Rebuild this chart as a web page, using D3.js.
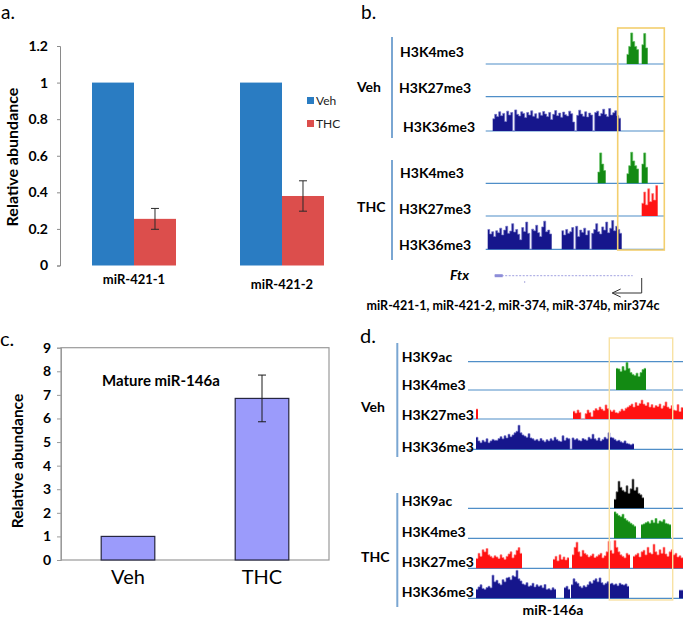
<!DOCTYPE html>
<html><head><meta charset="utf-8">
<script src="https://cdn.jsdelivr.net/npm/d3@7"></script>
<style>body{margin:0;background:#fff}svg{display:block}text{font-family:Lato,"Liberation Sans",sans-serif}</style>
</head><body><svg id="c" width="683" height="617"></svg>
<script>
// ---------- Panel a data ----------
const aCategories = ["miR-421-1", "miR-421-2"];
const aSeries = ["Veh", "THC"];
const aVeh = [1, 1];
const aThc = [0.255, 0.38];
const aThcErr = [0.057, 0.083];
const aTicks = [0, 0.2, 0.4, 0.6, 0.8, 1, 1.2];

// ---------- Panel c data ----------
const cCategories = ["Veh", "THC"];
const cValues = [1, 6.85];
const cErr = [0, 0.99];
const cTicks = [0, 1, 2, 3, 4, 5, 6, 7, 8, 9];

// ---------- Panel b tracks (2-unit bins: [start, values]) ----------
const bVehK4me3 = [[141, [30, 55, 97, 70, 55, 45]], [156, [60, 95, 50]]];
const bVehK27me3 = [];
const bVehK36me3 = [[7, [38,52,45,60,48,55,30,62,50,58, 0,66,52,47,60,55,42,58,50,63, 46,54,40,57,49,61,53,45,58,36, 52,64,48,56,43,59,51,47,62,54, 28,0,49,65,53,46,60,44,56,50, 0,58,62,47,55,68,52,45,70,50, 57,63,48,40]]];
const bThcK4me3 = [[112, [35, 95, 60, 40]], [141, [30, 55, 97, 70, 55, 45]], [156, [60, 95, 50]]];
const bThcK27me3 = [[156, [40, 75, 35, 85, 45, 70, 50, 95]]];
const bThcK36me3 = [[2, [62,48,55,40,58,52,66,45,60,72, 50,57,80,54,62,47,30,68,56,85, 50,0,63,58,75,52,40,70,88,55, 60,48]],
                    [76, [58,45,62,50,55,68,0,72,40,60, 53,66,45,58,0,50,62,80,55,48, 70,60,85,52,66,90,58,72,62,50]]];
const bDomain = [0, 178.3];
const bHighlight = [132, 178.6];
const ftxGene = [9, 147];
const ftxTss = 156;

// ---------- Panel d tracks ----------
const dVehK9ac = [];
const dVehK4me3 = [[148, [72,70,62,78,66,92,72,58,52,48,56,45,58,68,72]]];
const dVehK27me3 = [[8, [33]], [105, [26,20,30,22, 0,0, 18,30,22, 8, 28,35,30,40,33,28,47, 35,30,25,30,22,20, 26,33,28,36,40, 45,50,40,55,45,52, 63, 50,45,55,40,48,38, 45,42,50,36,44, 57, 40,35,45,30,28,48,25,38]]];
const dVehK36me3 = [[8, [40,28,22,30,25,35,22,28,33,30, 30,36,42,35,45,38,50,42,48,55,60, 80, 55,48,44,40,52,38,35,30,33, 28,36,30,25,32,28,35,30,40,33,28,26,45,30,38,35, 0, 38,32,35,30,28,36,33,30,40,35, 50, 35,30,38,28,33,40,35, 55, 40,38,33,28,30,25,22,28,20,18,15,18]]];
const dThcK9ac = [[146, [30,55,90,70,60,55,75,50,65,97,60,70,50,45,35]]];
const dThcK4me3 = [[146, [88,82,76,72,80,66,60,55,50,45,40]], [173, [45,48,52,55,50,60,52,66,50,58,55,62,50,48,45]]];
const dThcK27me3 = [[8, [33,50,40,62,55,66,45,40,35,42, 38,33,45,36,30,40,48,55,35,45, 60,69,50]],
                    [85, [30,40,25,45,30,38,28,35]],
                    [104, [45,70,87,55,40,60,50,45,38,42, 48,36,40,45,50,35,42,55,90,60, 50,93,70,55,45,40,35,50,45]],
                    [165, [40,45,50,38,55,60,45,70,52,48, 80,55,45,62,50,70,48,40,55,62, 45,50,38,42,35]]];
const dThcK36me3 = [[8, [30,38,45,33,30,36,40,35,77,55, 60,50,45,62,55,68,70,62,75,72,93,65,58, 48,45,52,40,42,50,38,45,40,43,35,46,30,32,28,35,30]],
                    [96, [35,40,30]],
                    [103, [45,65,55,50,40,35,42,38,45,55, 50,60,65,55,68,52,45,50,55,48, 50,45,48,42,50,46,44,48,40]],
                    [211, [27,27]]];
const dDomain = [0, 215];
const dHighlight = [141.3, 204.7];
const BIN = 2;

const COL = {navy: "#16168c", navyTip: "#7272c8", green: "#138a13", greenTip: "#5cc05c",
  red: "#ff1212", redTip: "#ff8a8a", black: "#000", blackTip: "#777",
  base: "#4f8ec8", bracket: "#7aa6d2"};

const svg = d3.select("#c");
svg.append("rect").attr("width", 683).attr("height", 617).attr("fill", "#fff");

// ================= Panel a =================
{
  const g = svg.append("g");
  const y = d3.scaleLinear().domain([0, 1.2]).range([265.5, 46]);
  const x0 = d3.scaleBand().domain(aCategories).range([60, 356]);
  const x1 = d3.scaleBand().domain(aSeries).range([0, x0.bandwidth()]).paddingOuter(0.762);
  const ax = d3.axisLeft(y).tickValues(aTicks).tickSize(3).tickPadding(9).tickFormat(d3.format("~g"));
  const axg = g.append("g").attr("transform", "translate(60,0)").call(ax);
  axg.select(".domain").attr("stroke", "#8a8a8a");
  axg.selectAll(".tick line").attr("stroke", "#8a8a8a");
  axg.selectAll("text").attr("font-size", 14).attr("font-weight", "bold").attr("fill", "#000")
     .style("font-family", "Lato, sans-serif");
  const cols = {Veh: "#2a7cc2", THC: "#dc4e4c"};
  aCategories.forEach((c, i) => {
    const vals = {Veh: aVeh[i], THC: aThc[i]};
    aSeries.forEach(s => {
      g.append("rect").attr("x", x0(c) + x1(s)).attr("width", x1.bandwidth())
        .attr("y", y(vals[s])).attr("height", y(0) - y(vals[s])).attr("fill", cols[s]);
    });
    const cx = x0(c) + x1("THC") + x1.bandwidth() / 2;
    const e = aThcErr[i];
    const eg = g.append("g").attr("stroke", "#2a2a2a").attr("stroke-width", 1);
    eg.append("line").attr("x1", cx).attr("x2", cx).attr("y1", y(aThc[i] + e)).attr("y2", y(aThc[i] - e));
    eg.append("line").attr("x1", cx - 4).attr("x2", cx + 4).attr("y1", y(aThc[i] + e)).attr("y2", y(aThc[i] + e));
    eg.append("line").attr("x1", cx - 4).attr("x2", cx + 4).attr("y1", y(aThc[i] - e)).attr("y2", y(aThc[i] - e));
    g.append("text").attr("x", x0(c) + x0.bandwidth() / 2).attr("y", 284 + i * 5)
      .attr("text-anchor", "middle").attr("font-size", 13).attr("font-weight", "bold").text(c);
  });
  g.append("text").attr("transform", "translate(18,157) rotate(-90)").attr("text-anchor", "middle")
    .attr("font-size", 16).attr("font-weight", "bold").text("Relative abundance");
  aSeries.forEach((s, i) => {
    g.append("rect").attr("x", 307).attr("y", 97 + i * 23).attr("width", 7).attr("height", 7).attr("fill", cols[s]);
    g.append("text").attr("x", 316).attr("y", 104.5 + i * 23).attr("font-size", 12).attr("fill", "#222").text(s);
  });
  svg.append("text").attr("x", 1).attr("y", 19).attr("font-size", 19).text("a.");
}

// ================= Panel c =================
{
  const g = svg.append("g");
  const y = d3.scaleLinear().domain([0, 9]).range([560, 347.7]);
  const x = d3.scaleBand().domain(cCategories).range([61, 329]).paddingInner(0.6).paddingOuter(0.3);
  g.append("rect").attr("x", 61).attr("y", 347.7).attr("width", 268).attr("height", 212.3)
    .attr("fill", "none").attr("stroke", "#9a9a9a").attr("stroke-width", 1.2);
  const ax = d3.axisLeft(y).tickValues(cTicks).tickSize(4).tickPadding(6).tickFormat(d3.format("d"));
  const axg = g.append("g").attr("transform", "translate(61,0)").call(ax);
  axg.select(".domain").attr("stroke", "#9a9a9a");
  axg.selectAll(".tick line").attr("stroke", "#9a9a9a");
  axg.selectAll("text").attr("font-size", 14).attr("font-weight", "bold").attr("fill", "#000")
     .style("font-family", "Lato, sans-serif");
  cCategories.forEach((c, i) => {
    g.append("rect").attr("x", x(c)).attr("width", x.bandwidth()).attr("y", y(cValues[i]))
      .attr("height", y(0) - y(cValues[i])).attr("fill", "#9b9bfb").attr("stroke", "#262640").attr("stroke-width", 1.2);
    if (cErr[i] > 0) {
      const cx = x(c) + x.bandwidth() / 2;
      const eg = g.append("g").attr("stroke", "#1a1a1a").attr("stroke-width", 1);
      eg.append("line").attr("x1", cx).attr("x2", cx).attr("y1", y(cValues[i] + cErr[i])).attr("y2", y(cValues[i] - cErr[i]));
      [cValues[i] + cErr[i], cValues[i] - cErr[i]].forEach(v =>
        eg.append("line").attr("x1", cx - 4).attr("x2", cx + 4).attr("y1", y(v)).attr("y2", y(v)));
    }
    g.append("text").attr("x", x(c) + x.bandwidth() / 2).attr("y", 584).attr("text-anchor", "middle")
      .attr("font-size", 20).text(c);
  });
  g.append("text").attr("x", 102).attr("y", 386).attr("font-size", 15).attr("font-weight", "bold").text("Mature miR-146a");
  g.append("text").attr("transform", "translate(23,461) rotate(-90)").attr("text-anchor", "middle")
    .attr("font-size", 15.5).attr("font-weight", "bold").text("Relative abundance");
  svg.append("text").attr("x", 0).attr("y", 346).attr("font-size", 20).text("c.");
}

// ================= Track helpers =================
function drawTrack(g, x, baseY, H, segs, fill, tip, x0, x1) {
  g.append("line").attr("x1", x0).attr("x2", x1).attr("y1", baseY).attr("y2", baseY)
    .attr("stroke", COL.base).attr("stroke-width", 1.2);
  const y = d3.scaleLinear().domain([0, 100]).range([baseY, baseY - H]);
  const area = d3.area().x(d => x(d.p)).y0(baseY).y1(d => y(d.v)).curve(d3.curveStepAfter);
  const line = d3.line().x(d => x(d.p)).y(d => y(d.v)).curve(d3.curveStepAfter);
  segs.forEach(([start, vals]) => {
    const pts = vals.map((v, i) => ({p: start + i * BIN, v}));
    pts.push({p: start + vals.length * BIN, v: vals[vals.length - 1]});
    g.append("path").attr("d", area(pts)).attr("fill", fill);
    g.append("path").attr("d", line(pts)).attr("fill", "none").attr("stroke", tip).attr("stroke-width", 0.7);
  });
}
function label(g, x, y, t, size, extra) {
  const tx = g.append("text").attr("x", x).attr("y", y).attr("font-size", size || 14).attr("font-weight", "bold").text(t);
  if (extra) extra(tx);
  return tx;
}

// ================= Panel b =================
{
  const g = svg.append("g");
  const x = d3.scaleLinear().domain(bDomain).range([485.7, 664]);
  const X0 = x(bDomain[0]), X1 = x(bDomain[1]);
  const tracks = [
    [64, bVehK4me3, COL.green, COL.greenTip],
    [96.7, bVehK27me3, COL.red, COL.redTip],
    [131, bVehK36me3, COL.navy, COL.navyTip],
    [183.3, bThcK4me3, COL.green, COL.greenTip],
    [216, bThcK27me3, COL.red, COL.redTip],
    [249.3, bThcK36me3, COL.navy, COL.navyTip]
  ];
  tracks.forEach(([b, s, f, t]) => drawTrack(g, x, b, 32, s, f, t, X0, X1));
  g.append("rect").attr("x", x(bHighlight[0])).attr("y", 28).attr("width", x(bHighlight[1]) - x(bHighlight[0]))
    .attr("height", 222).attr("fill", "none").attr("stroke", "#f3cf6e").attr("stroke-width", 1.6);
  g.append("line").attr("x1", 392).attr("x2", 392).attr("y1", 37).attr("y2", 138).attr("stroke", COL.bracket).attr("stroke-width", 2);
  g.append("line").attr("x1", 392).attr("x2", 392).attr("y1", 160).attr("y2", 260).attr("stroke", COL.bracket).attr("stroke-width", 2);
  label(g, 400, 57, "H3K4me3"); label(g, 399, 93, "H3K27me3"); label(g, 403, 132, "H3K36me3");
  label(g, 400, 178, "H3K4me3"); label(g, 399, 214, "H3K27me3"); label(g, 399, 250, "H3K36me3");
  label(g, 357, 92, "Veh"); label(g, 357, 212, "THC");
  label(g, 450, 280, "Ftx", 14, t => t.attr("font-style", "italic"));
  // gene model
  const gy = 275.7;
  g.append("line").attr("x1", x(ftxGene[0])).attr("x2", x(ftxGene[1])).attr("y1", gy).attr("y2", gy)
    .attr("stroke", "#a0a0e0").attr("stroke-width", 1).attr("stroke-dasharray", "2,1.5");
  g.append("line").attr("x1", x(ftxGene[0])).attr("x2", x(ftxGene[0]) + 8).attr("y1", gy).attr("y2", gy)
    .attr("stroke", "#8d8dd8").attr("stroke-width", 3);
  g.append("line").attr("x1", x(ftxGene[0] + 30)).attr("x2", x(ftxGene[0] + 30)).attr("y1", 281).attr("y2", 283)
    .attr("stroke", "#b0b0e0").attr("stroke-width", 1);
  const tx = x(ftxTss);
  g.append("path").attr("d", `M${tx},278 V293 H${tx - 29}`).attr("fill", "none").attr("stroke", "#333").attr("stroke-width", 1);
  g.append("path").attr("d", `M${tx - 21},289 L${tx - 29.5},293 L${tx - 21},297`).attr("fill", "none").attr("stroke", "#333").attr("stroke-width", 1);
  g.append("text").attr("x", 513).attr("y", 310).attr("text-anchor", "middle").attr("font-size", 12.5)
    .attr("font-weight", "bold").text("miR-421-1, miR-421-2, miR-374, miR-374b, mir374c");
  svg.append("text").attr("x", 361).attr("y", 19).attr("font-size", 19).text("b.");
}

// ================= Panel d =================
{
  const g = svg.append("g");
  const x = d3.scaleLinear().domain(dDomain).range([468, 683]);
  const X0 = x(dDomain[0]), X1 = x(dDomain[1]);
  const tracks = [
    [361.7, dVehK9ac, COL.black, COL.blackTip],
    [390, dVehK4me3, COL.green, COL.greenTip],
    [419, dVehK27me3, COL.red, COL.redTip],
    [449.3, dVehK36me3, COL.navy, COL.navyTip],
    [508.3, dThcK9ac, COL.black, COL.blackTip],
    [538.3, dThcK4me3, COL.green, COL.greenTip],
    [568.3, dThcK27me3, COL.red, COL.redTip],
    [598.3, dThcK36me3, COL.navy, COL.navyTip]
  ];
  tracks.forEach(([b, s, f, t]) => drawTrack(g, x, b, 30, s, f, t, X0, X1));
  g.append("rect").attr("x", x(dHighlight[0])).attr("y", 338).attr("width", x(dHighlight[1]) - x(dHighlight[0]))
    .attr("height", 262).attr("fill", "none").attr("stroke", "#f8e2a4").attr("stroke-width", 1.4);
  g.append("line").attr("x1", 397.3).attr("x2", 397.3).attr("y1", 343).attr("y2", 457).attr("stroke", COL.bracket).attr("stroke-width", 2);
  g.append("line").attr("x1", 397.3).attr("x2", 397.3).attr("y1", 493).attr("y2", 607).attr("stroke", COL.bracket).attr("stroke-width", 2);
  label(g, 401.7, 362, "H3K9ac"); label(g, 401.7, 390, "H3K4me3"); label(g, 401.7, 420, "H3K27me3"); label(g, 401.7, 452, "H3K36me3");
  label(g, 401.7, 506, "H3K9ac"); label(g, 401.7, 537, "H3K4me3"); label(g, 401.7, 567, "H3K27me3"); label(g, 401.7, 597, "H3K36me3");
  label(g, 361, 412, "Veh"); label(g, 361, 562, "THC");
  g.append("text").attr("x", 553).attr("y", 615).attr("text-anchor", "middle").attr("font-size", 14)
    .attr("font-weight", "bold").text("miR-146a");
  svg.append("text").attr("x", 360).attr("y", 343).attr("font-size", 20).text("d.");
}
</script></body></html>
